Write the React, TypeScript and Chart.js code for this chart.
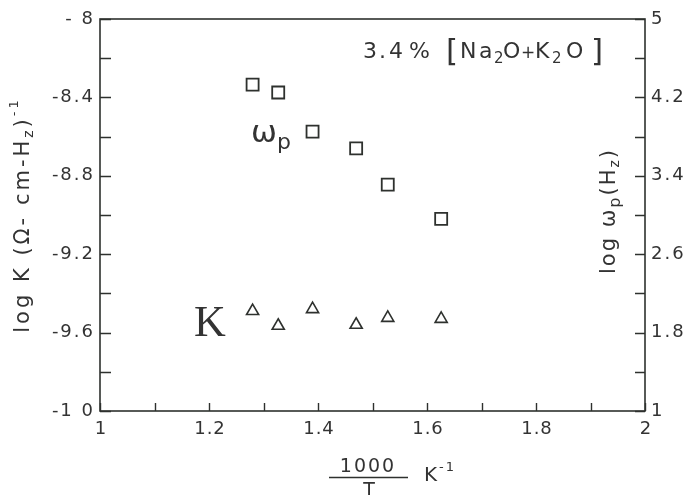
import React, { useEffect, useRef } from "react";
import { Chart, registerables } from "chart.js";

Chart.register(...registerables);

// Reciprocal temperature, 1000/T (K^-1), of each measurement
const omegaTemps = [1.28, 1.327, 1.39, 1.47, 1.528, 1.626];
// log ωp (Hz), right axis
const logOmegaP = [4.33, 4.25, 3.85, 3.68, 3.31, 2.96];
const kTemps = [1.28, 1.327, 1.39, 1.47, 1.528, 1.626];
// log K (Ω-cm-Hz)^-1, left axis
const logK = [-9.49, -9.565, -9.48, -9.56, -9.525, -9.53];

const xLabelValues = [1, 1.2, 1.4, 1.6, 1.8, 2];
const xLabelTexts = ["1", "1.2", "1.4", "1.6", "1.8", "2"];
const leftLabelValues = [-8, -8.4, -8.8, -9.2, -9.6, -10];
const leftLabelTexts = ["- 8", "-8.4", "-8.8", "-9.2", "-9.6", "-1 0"];
const rightLabelValues = [5, 4.2, 3.4, 2.6, 1.8, 1];
const rightLabelTexts = ["5", "4.2", "3.4", "2.6", "1.8", "1"];

const INK = "#2e312e";
const TEXT = "#333333";
const SANS = '"DejaVu Sans", sans-serif';
const SERIF = '"Liberation Serif", "DejaVu Serif", serif';

type Seg = { t: string; size: number; dy?: number; fam?: string };
type Piece = { t: string; x: number; size: number; dy?: number };

function measureSegs(ctx: CanvasRenderingContext2D, segs: Seg[]) {
  let w = 0;
  for (const s of segs) {
    ctx.font = `${s.size}px ${s.fam ?? SANS}`;
    w += ctx.measureText(s.t).width;
  }
  return w;
}

function drawSegs(ctx: CanvasRenderingContext2D, segs: Seg[], x: number, y: number) {
  let cx = x;
  for (const s of segs) {
    ctx.font = `${s.size}px ${s.fam ?? SANS}`;
    ctx.fillText(s.t, cx, y + (s.dy ?? 0));
    cx += ctx.measureText(s.t).width;
  }
  return cx;
}

function drawPieces(ctx: CanvasRenderingContext2D, pieces: Piece[], y: number) {
  for (const p of pieces) {
    ctx.font = `${p.size}px ${SANS}`;
    ctx.fillText(p.t, p.x, y + (p.dy ?? 0));
  }
}

function drawRotated(
  ctx: CanvasRenderingContext2D,
  segs: Seg[],
  cx: number,
  cy: number,
  baselineOffset: number
) {
  ctx.save();
  ctx.translate(cx, cy);
  ctx.rotate(-Math.PI / 2);
  const w = measureSegs(ctx, segs);
  drawSegs(ctx, segs, -w / 2, baselineOffset);
  ctx.restore();
}

const figurePlugin = {
  id: "figureDecor",
  afterDraw(chart: any) {
    const ctx: CanvasRenderingContext2D = chart.ctx;
    const { left, right, top, bottom } = chart.chartArea;
    const xs = chart.scales.x;
    const yl = chart.scales.y;
    const yr = chart.scales.y1;

    ctx.save();
    // frame
    ctx.strokeStyle = INK;
    ctx.lineWidth = 1.6;
    ctx.strokeRect(left, top, right - left, bottom - top);

    // inward tick marks
    ctx.lineWidth = 1.4;
    ctx.beginPath();
    for (const t of xs.ticks) {
      const p = Math.round(xs.getPixelForValue(t.value)) + 0.5;
      ctx.moveTo(p, bottom);
      ctx.lineTo(p, bottom - 8);
    }
    for (const t of yl.ticks) {
      const p = Math.round(yl.getPixelForValue(t.value)) + 0.5;
      ctx.moveTo(left, p);
      ctx.lineTo(left + 11, p);
    }
    for (const t of yr.ticks) {
      const p = Math.round(yr.getPixelForValue(t.value)) + 0.5;
      ctx.moveTo(right, p);
      ctx.lineTo(right - 10, p);
    }
    ctx.stroke();

    ctx.fillStyle = TEXT;
    ctx.textBaseline = "middle";

    // tick labels
    ctx.font = `18px ${SANS}`;
    (ctx as any).letterSpacing = "2px";
    ctx.textAlign = "right";
    leftLabelValues.forEach((v, i) => {
      ctx.fillText(leftLabelTexts[i], left - 5, yl.getPixelForValue(v));
    });
    ctx.textAlign = "left";
    rightLabelValues.forEach((v, i) => {
      ctx.fillText(rightLabelTexts[i], right + 6, yr.getPixelForValue(v));
    });
    (ctx as any).letterSpacing = "1px";
    ctx.textAlign = "center";
    xLabelValues.forEach((v, i) => {
      ctx.fillText(xLabelTexts[i], xs.getPixelForValue(v) + 1, bottom + 18);
    });

    // axis titles
    ctx.textAlign = "left";
    ctx.textBaseline = "alphabetic";
    (ctx as any).letterSpacing = "3px";
    drawRotated(
      ctx,
      [
        { t: "log K (Ω- cm-H", size: 21 },
        { t: "z", size: 14, dy: 4 },
        { t: ")", size: 21 },
        { t: "-1", size: 13, dy: -11 },
      ],
      21,
      215,
      8
    );
    (ctx as any).letterSpacing = "2px";
    drawRotated(
      ctx,
      [
        { t: "log ω", size: 21 },
        { t: "p", size: 16, dy: 5 },
        { t: "(H", size: 21 },
        { t: "z", size: 14, dy: 4 },
        { t: ")", size: 21 },
      ],
      607,
      211,
      8
    );

    // x title: 1000/T K^-1
    ctx.font = `19px ${SANS}`;
    ctx.textAlign = "center";
    ctx.fillText("1000", 368, 472);
    ctx.fillText("T", 370, 496);
    ctx.beginPath();
    ctx.lineWidth = 1.6;
    ctx.moveTo(329, 477.5);
    ctx.lineTo(408, 477.5);
    ctx.stroke();
    ctx.textAlign = "left";
    drawSegs(
      ctx,
      [
        { t: "K", size: 20 },
        { t: "-1", size: 13, dy: -10 },
      ],
      424,
      481
    );

    // composition note
    (ctx as any).letterSpacing = "0px";
    drawPieces(
      ctx,
      [
        { t: "3", x: 363, size: 22 },
        { t: ".", x: 379, size: 22 },
        { t: "4", x: 389, size: 22 },
        { t: "%", x: 409, size: 22 },
        { t: "[", x: 446, size: 31, dy: 3 },
        { t: "N", x: 460, size: 22 },
        { t: "a", x: 479, size: 22 },
        { t: "2", x: 494, size: 15, dy: 5 },
        { t: "O", x: 503, size: 22 },
        { t: "+", x: 521, size: 17 },
        { t: "K", x: 535, size: 22 },
        { t: "2", x: 552, size: 15, dy: 5 },
        { t: "O", x: 566, size: 22 },
        { t: "]", x: 591, size: 31, dy: 3 },
      ],
      58
    );

    // series tags
    drawSegs(
      ctx,
      [
        { t: "ω", size: 31 },
        { t: "p", size: 22, dy: 7 },
      ],
      251,
      142
    );
    ctx.font = `44px ${SERIF}`;
    ctx.fillText("K", 194, 336);

    ctx.restore();
  },
};

export default function App() {
  const canvasRef = useRef<HTMLCanvasElement | null>(null);

  useEffect(() => {
    const canvas = canvasRef.current;
    if (!canvas) return;
    const chart = new Chart(canvas, {
      type: "scatter",
      data: {
        datasets: [
          {
            label: "ωp",
            data: omegaTemps.map((x, i) => ({ x, y: logOmegaP[i] })),
            yAxisID: "y1",
            pointStyle: "rect",
            pointRadius: 8.5,
            borderColor: INK,
            borderWidth: 1.8,
            backgroundColor: "rgba(0,0,0,0)",
          },
          {
            label: "K",
            data: kTemps.map((x, i) => ({ x, y: logK[i] })),
            yAxisID: "y",
            pointStyle: "triangle",
            pointRadius: 7,
            borderColor: INK,
            borderWidth: 1.6,
            backgroundColor: "rgba(0,0,0,0)",
          },
        ],
      },
      options: {
        responsive: false,
        animation: false,
        events: [],
        layout: { padding: { top: 19, left: 0, right: 0, bottom: 0 } },
        plugins: { legend: { display: false }, tooltip: { enabled: false } },
        scales: {
          x: {
            type: "linear",
            min: 1,
            max: 2,
            ticks: { display: false, stepSize: 0.1 },
            grid: { display: false },
            border: { display: false },
            afterFit: (s: any) => {
              s.height = 84;
            },
          },
          y: {
            type: "linear",
            position: "left",
            min: -10,
            max: -8,
            ticks: { display: false, stepSize: 0.2 },
            grid: { display: false },
            border: { display: false },
            afterFit: (s: any) => {
              s.width = 100;
            },
          },
          y1: {
            type: "linear",
            position: "right",
            min: 1,
            max: 5,
            ticks: { display: false, stepSize: 0.4 },
            grid: { display: false },
            border: { display: false },
            afterFit: (s: any) => {
              s.width = 42;
            },
          },
        },
      } as any,
      plugins: [figurePlugin],
    });
    return () => chart.destroy();
  }, []);

  return (
    <div
      style={{
        position: "fixed",
        left: 0,
        top: 0,
        width: 687,
        height: 495,
        background: "#ffffff",
      }}
    >
      <canvas ref={canvasRef} width={687} height={495} />
    </div>
  );
}
